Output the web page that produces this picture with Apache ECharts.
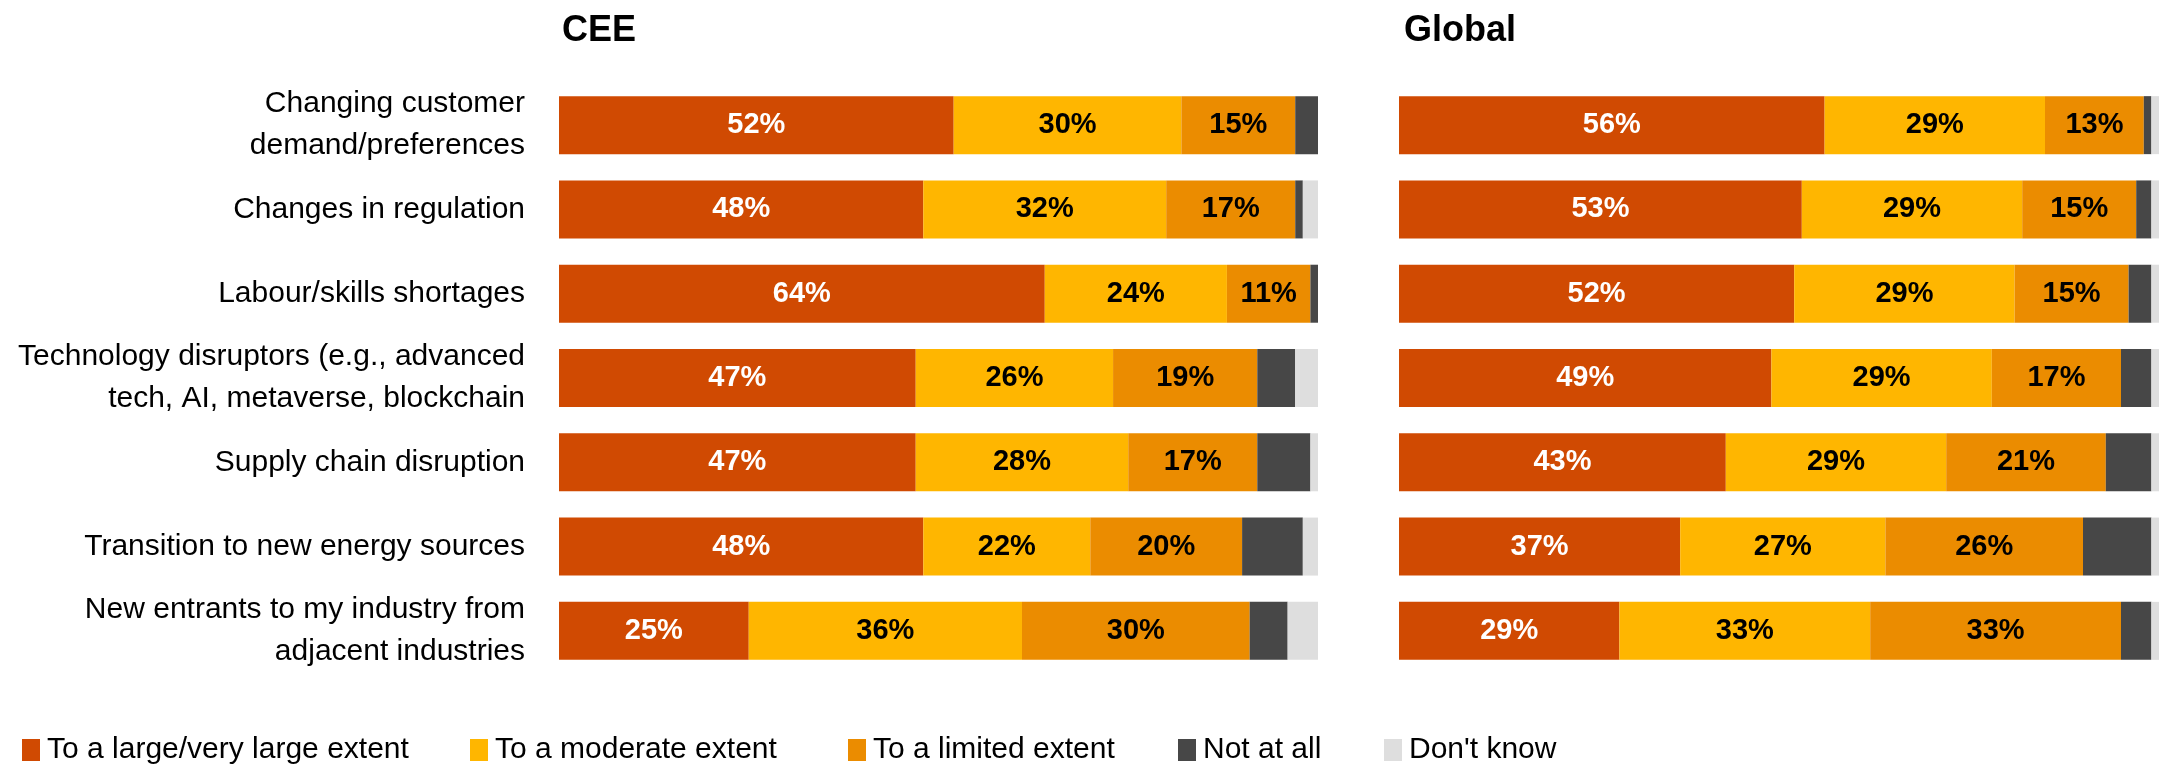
<!DOCTYPE html>
<html>
<head>
<meta charset="utf-8">
<title>Disruption drivers - CEE vs Global</title>
<script src="https://cdn.jsdelivr.net/npm/echarts@6/dist/echarts.min.js"></script>
<style>
  html, body { margin: 0; padding: 0; background: #ffffff; }
  #chart { width: 2169px; height: 767px; }
</style>
</head>
<body>
<div id="chart"></div>
<script>
  // 行业影响因素 - CEE / Global 堆叠条形图
  const categories = [
    'Changing customer\ndemand/preferences',
    'Changes in regulation',
    'Labour/skills shortages',
    'Technology disruptors (e.g., advanced\ntech, AI, metaverse, blockchain',
    'Supply chain disruption',
    'Transition to new energy sources',
    'New entrants to my industry from\nadjacent industries',
  ];
  const seriesNames = [
    'To a large/very large extent',
    'To a moderate extent',
    'To a limited extent',
    'Not at all',
    "Don't know",
  ];
  const colors = ['#D04A02', '#FFB600', '#EB8C00', '#474747', '#DEDEDE'];

  const ceeLarge = [52, 48, 64, 47, 47, 48, 25];
  const ceeModerate = [30, 32, 24, 26, 28, 22, 36];
  const ceeLimited = [15, 17, 11, 19, 17, 20, 30];
  const ceeNotAtAll = [3, 1, 1, 5, 7, 8, 5];
  const ceeDontKnow = [0, 2, 0, 3, 1, 2, 4];

  const globalLarge = [56, 53, 52, 49, 43, 37, 29];
  const globalModerate = [29, 29, 29, 29, 29, 27, 33];
  const globalLimited = [13, 15, 15, 17, 21, 26, 33];
  const globalNotAtAll = [1, 2, 3, 4, 6, 9, 4];
  const globalDontKnow = [1, 1, 1, 1, 1, 1, 1];

  const ceeData = [ceeLarge, ceeModerate, ceeLimited, ceeNotAtAll, ceeDontKnow];
  const globalData = [globalLarge, globalModerate, globalLimited, globalNotAtAll, globalDontKnow];

  const font = "'Liberation Sans', Arial, sans-serif";

  const legendLeft = [22, 470, 848, 1178, 1384];

  const makeSeries = (dataList, gridIndex, stack) => {
    return dataList.map((values, i) => ({
      name: seriesNames[i],
      type: 'bar',
      stack: stack,
      xAxisIndex: gridIndex,
      yAxisIndex: gridIndex,
      barWidth: 58,
      data: values,
      itemStyle: { color: colors[i] },
      label: {
        show: i < 3,
        position: 'inside',
        color: i === 0 ? '#ffffff' : '#000000',
        fontFamily: font,
        fontWeight: 'bold',
        fontSize: 29,
        formatter: (params) => `${params.value}%`,
      },
      emphasis: { disabled: true },
    }));
  };

  const chart = echarts.init(document.getElementById('chart'));
  window.addEventListener('resize', function () {
    chart && chart.resize();
  });

  const yAxisBase = {
    type: 'category',
    data: categories,
    inverse: true,
    axisLine: { show: false },
    axisTick: { show: false },
    splitLine: { show: false },
  };
  const xAxisBase = {
    type: 'value',
    min: 0,
    max: 100,
    show: false,
  };

  chart.setOption({
    backgroundColor: '#ffffff',
    animation: false,
    title: [
      {
        text: 'CEE',
        left: 557,
        top: 8,
        textStyle: { fontFamily: font, fontWeight: 'bold', fontSize: 36, color: '#000000' },
      },
      {
        text: 'Global',
        left: 1399,
        top: 8,
        textStyle: { fontFamily: font, fontWeight: 'bold', fontSize: 36, color: '#000000' },
      },
    ],
    legend: seriesNames.map((name, i) => ({
      data: [name],
      left: legendLeft[i],
      top: 735,
      padding: 0,
      itemWidth: 18,
      itemHeight: 22,
      itemGap: 0,
      icon: 'rect',
      selectedMode: false,
      textStyle: { fontFamily: font, fontSize: 30, color: '#000000', padding: [0, 0, 0, 2] },
    })),
    grid: [
      { left: 559, width: 759, top: 83, height: 590, outerBoundsMode: 'none' },
      { left: 1399, width: 760, top: 83, height: 590, outerBoundsMode: 'none' },
    ],
    xAxis: [
      Object.assign({ gridIndex: 0 }, xAxisBase),
      Object.assign({ gridIndex: 1 }, xAxisBase),
    ],
    yAxis: [
      Object.assign({ gridIndex: 0 }, yAxisBase, {
        axisLabel: {
          margin: 34,
          align: 'right',
          fontFamily: font,
          fontSize: 30,
          lineHeight: 42,
          color: '#000000',
        },
      }),
      Object.assign({ gridIndex: 1 }, yAxisBase, { axisLabel: { show: false } }),
    ],
    series: [
      ...makeSeries(ceeData, 0, 'cee'),
      ...makeSeries(globalData, 1, 'global'),
    ],
  });
</script>
</body>
</html>
